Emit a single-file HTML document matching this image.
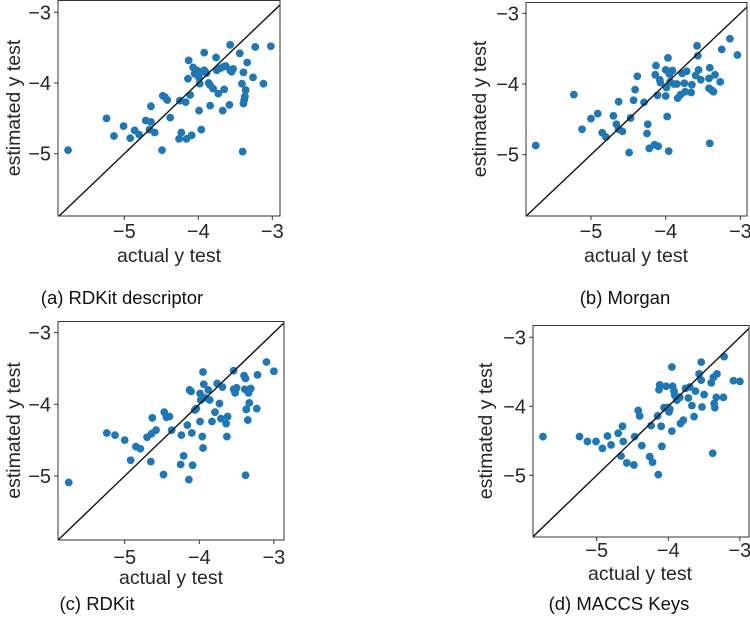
<!DOCTYPE html>
<html><head><meta charset="utf-8">
<style>
html,body{margin:0;padding:0;background:#fff;}
body{width:750px;height:635px;overflow:hidden;position:relative;font-family:"Liberation Sans",sans-serif;}
svg{position:absolute;left:0;top:0;}
.tick{font-size:20px;fill:#262626;}
.lab{font-size:19.5px;fill:#262626;}
.cap{font-size:18.5px;fill:#111;}
</style></head>
<body>
<svg id="fig" width="750" height="635" viewBox="0 0 750 635"></svg>
<script>
const tickValues = [-5, -4, -3];
const tickLabels = ["\u22125", "\u22124", "\u22123"];
const captions = ["(a) RDKit descriptor", "(b) Morgan", "(c) RDKit", "(d) MACCS Keys"];

const xA = [-5.76,-5.24,-5.14,-5.01,-4.92,-4.86,-4.80,-4.71,-4.64,-4.66,-4.59,-4.64,-4.48,-4.45,-4.42,-4.49,-4.38,-4.25,-4.23,-4.26,-4.17,-4.16,-4.09,-4.13,-4.14,-4.11,-4.07,-4.05,-4.02,-3.99,-3.98,-3.99,-3.96,-3.92,-3.92,-3.89,-3.95,-3.86,-3.84,-3.84,-3.80,-3.76,-3.75,-3.73,-3.70,-3.66,-3.65,-3.67,-3.63,-3.57,-3.57,-3.55,-3.53,-3.58,-3.44,-3.39,-3.41,-3.39,-3.38,-3.37,-3.36,-3.40,-3.34,-3.26,-3.23,-3.12,-3.02];
const yA = [-4.95,-4.50,-4.75,-4.61,-4.78,-4.67,-4.73,-4.53,-4.55,-4.66,-4.70,-4.33,-4.18,-4.20,-4.24,-4.95,-4.49,-4.25,-4.70,-4.79,-4.27,-4.79,-4.74,-3.68,-3.94,-4.17,-3.78,-3.87,-3.82,-3.93,-4.01,-4.39,-4.66,-3.57,-3.82,-3.86,-3.84,-4.00,-4.03,-4.32,-4.08,-3.64,-3.82,-4.15,-3.79,-3.77,-4.09,-4.39,-3.76,-3.46,-3.82,-3.84,-3.80,-4.31,-3.58,-3.85,-4.01,-4.29,-4.24,-4.19,-4.10,-4.97,-3.71,-3.92,-3.49,-4.01,-3.48];

const xB = [-5.74,-5.23,-5.12,-5.00,-4.91,-4.85,-4.80,-4.70,-4.66,-4.63,-4.58,-4.63,-4.47,-4.49,-4.43,-4.41,-4.38,-4.29,-4.24,-4.25,-4.22,-4.15,-4.10,-4.13,-4.14,-4.11,-4.08,-4.07,-4.00,-4.00,-3.99,-3.98,-3.96,-3.97,-3.95,-3.94,-3.91,-3.89,-3.85,-3.84,-3.80,-3.78,-3.75,-3.74,-3.72,-3.66,-3.65,-3.60,-3.58,-3.57,-3.56,-3.53,-3.42,-3.41,-3.41,-3.42,-3.38,-3.36,-3.34,-3.27,-3.25,-3.14,-3.04];
const yB = [-4.87,-4.15,-4.64,-4.49,-4.42,-4.69,-4.75,-4.45,-4.57,-4.64,-4.67,-4.25,-4.48,-4.97,-4.23,-4.08,-3.89,-4.26,-4.57,-4.70,-4.91,-4.86,-4.88,-3.74,-3.87,-4.16,-3.94,-3.98,-3.80,-4.17,-4.05,-4.46,-4.95,-3.63,-3.86,-3.97,-3.81,-4.00,-4.00,-4.20,-4.15,-3.85,-3.99,-4.11,-3.82,-4.12,-4.01,-3.88,-3.46,-3.60,-3.80,-3.94,-3.92,-3.77,-4.84,-4.06,-4.09,-4.11,-3.87,-3.97,-3.51,-3.36,-3.59];

const xC = [-5.75,-5.24,-5.13,-5.00,-4.92,-4.85,-4.79,-4.70,-4.64,-4.65,-4.58,-4.63,-4.47,-4.44,-4.40,-4.37,-4.48,-4.24,-4.21,-4.25,-4.16,-4.13,-4.11,-4.10,-4.09,-4.14,-4.06,-4.04,-3.99,-3.99,-3.98,-3.96,-3.95,-3.95,-3.94,-3.92,-3.88,-3.86,-3.83,-3.79,-3.76,-3.73,-3.71,-3.69,-3.64,-3.63,-3.62,-3.54,-3.54,-3.52,-3.50,-3.40,-3.39,-3.38,-3.37,-3.38,-3.35,-3.34,-3.33,-3.31,-3.22,-3.23,-3.10,-3.00];
const yC = [-5.09,-4.40,-4.43,-4.50,-4.78,-4.59,-4.62,-4.46,-4.41,-4.80,-4.36,-4.19,-4.11,-4.18,-4.17,-4.36,-4.98,-4.43,-4.72,-4.84,-4.29,-3.80,-3.82,-4.40,-4.85,-5.05,-4.08,-4.06,-3.85,-4.24,-3.94,-4.45,-4.61,-3.55,-3.72,-3.91,-3.80,-3.94,-4.24,-4.11,-3.71,-3.99,-4.20,-3.76,-4.27,-4.45,-4.17,-3.53,-3.79,-3.84,-3.77,-3.60,-3.79,-3.64,-4.07,-4.99,-4.22,-3.84,-3.98,-3.78,-3.59,-4.06,-3.41,-3.54];

const xD = [-5.75,-5.24,-5.13,-5.01,-4.92,-4.85,-4.80,-4.70,-4.64,-4.63,-4.66,-4.58,-4.48,-4.47,-4.42,-4.40,-4.37,-4.24,-4.26,-4.22,-4.15,-4.14,-4.13,-4.12,-4.10,-4.09,-4.06,-4.03,-4.01,-3.99,-3.98,-3.95,-3.95,-3.94,-3.92,-3.91,-3.88,-3.84,-3.83,-3.79,-3.76,-3.72,-3.70,-3.67,-3.64,-3.62,-3.57,-3.54,-3.54,-3.53,-3.50,-3.40,-3.38,-3.37,-3.36,-3.35,-3.33,-3.32,-3.23,-3.22,-3.09,-3.00];
const yD = [-4.44,-4.44,-4.51,-4.51,-4.61,-4.43,-4.56,-4.39,-4.29,-4.51,-4.72,-4.82,-4.85,-4.44,-4.06,-4.14,-4.57,-4.28,-4.73,-4.81,-4.14,-4.99,-3.76,-3.69,-4.29,-4.58,-4.02,-3.71,-4.02,-4.08,-4.04,-4.36,-3.43,-3.71,-3.78,-3.84,-3.91,-3.87,-4.25,-4.20,-3.74,-3.88,-3.72,-3.99,-4.15,-3.78,-3.53,-3.36,-3.62,-4.01,-3.83,-3.66,-4.68,-3.58,-3.96,-4.02,-3.87,-3.53,-3.87,-3.28,-3.63,-3.64];

const NS = "http://www.w3.org/2000/svg";
const svg = document.getElementById("fig");
function mk(tag, attrs, parent){
  const e = document.createElementNS(NS, tag);
  for (const k in attrs) e.setAttribute(k, attrs[k]);
  (parent||svg).appendChild(e);
  return e;
}
const panels = [
  {id:"a", xs:xA, ys:yA, L:58, R:280, T:0, B:216, x5:124.3, x4:198.3, y5:153.7, y4:83, tickY:238, labX:169, labY:262, ylabX:13, capX:122, capY:304},
  {id:"b", xs:xB, ys:yB, L:526, R:747, T:2, B:216, x5:591, x4:665.7, y5:154.7, y4:84, tickY:238, labX:636, labY:262, ylabX:479, capX:625, capY:304},
  {id:"c", xs:xC, ys:yC, L:58, R:284, T:321, B:540, x5:124.7, x4:199.3, y5:476, y4:404.3, tickY:564, labX:171, labY:584, ylabX:13, capX:97, capY:610},
  {id:"d", xs:xD, ys:yD, L:533, R:749, T:325, B:537, x5:596.7, x4:668.3, y5:475.3, y4:406.3, tickY:557, labX:640, labY:580, ylabX:485, capX:619, capY:610}
];
panels.forEach((p, pi) => {
  const sx = p.x4 - p.x5, sy = p.y5 - p.y4;
  const X = v => p.x4 + (v + 4) * sx;
  const Y = v => p.y4 - (v + 4) * sy;
  const g = mk("g", {});
  
  
  const xmin = (p.L - p.x4) / sx - 4, xmax = (p.R - p.x4) / sx - 4;
  const ymin = (p.y4 - p.B) / sy - 4, ymax = (p.y4 - p.T) / sy - 4;
  const lo = Math.max(xmin, ymin), hi = Math.min(xmax, ymax);
  const cp = mk("clipPath", {id:"clip"+p.id}, g);
  mk("rect", {x:p.L, y:p.T, width:p.R-p.L, height:p.B-p.T}, cp);
  const pts = mk("g", {"clip-path":"url(#clip"+p.id+")"}, g);
  
  
  p.xs.forEach((xv, i) => {
    const c = mk("circle", {cx:X(xv), cy:Y(p.ys[i]), r:3.9, fill:"#1f77b4"}, pts);
    
    
  });
  const ln = mk("line", {x1:X(lo), y1:Y(lo), x2:X(hi), y2:Y(hi), stroke:"#111", "stroke-width":1.4}, g);
  
  
  const box = mk("rect", {x:p.L, y:p.T+0.5, width:p.R-p.L, height:p.B-p.T-0.5, fill:"none", stroke:"#333", "stroke-width":1}, g);
  
  
  tickValues.forEach((v, i) => {
    const tx = X(v);
    mk("line", {x1:tx, y1:p.B, x2:tx, y2:p.B+4, stroke:"#333"}, g);
    const t = mk("text", {x:tx, y:p.tickY, "text-anchor":"middle", class:"tick"}, g);
    t.textContent = tickLabels[i];
    
    
    const ty = Y(v);
    mk("line", {x1:p.L-4, y1:ty, x2:p.L, y2:ty, stroke:"#333"}, g);
    const t2 = mk("text", {x:p.L-7, y:ty+7, "text-anchor":"end", class:"tick"}, g);
    t2.textContent = tickLabels[i];
    
    
  });
  const xl = mk("text", {x:p.labX, y:p.labY, "text-anchor":"middle", class:"lab"}, g);
  xl.textContent = "actual y test";
  
  
  const cy = (p.T + p.B) / 2;
  const yl = mk("text", {x:p.ylabX, y:cy, "text-anchor":"middle", class:"lab", transform:"rotate(-90 "+p.ylabX+" "+cy+") translate(0 7)"}, g);
  yl.textContent = "estimated y test";
  
  
  const cap = mk("text", {x:p.capX, y:p.capY, "text-anchor":"middle", class:"cap"}, g);
  cap.textContent = captions[pi];
  
  
});
</script>
</body></html>
